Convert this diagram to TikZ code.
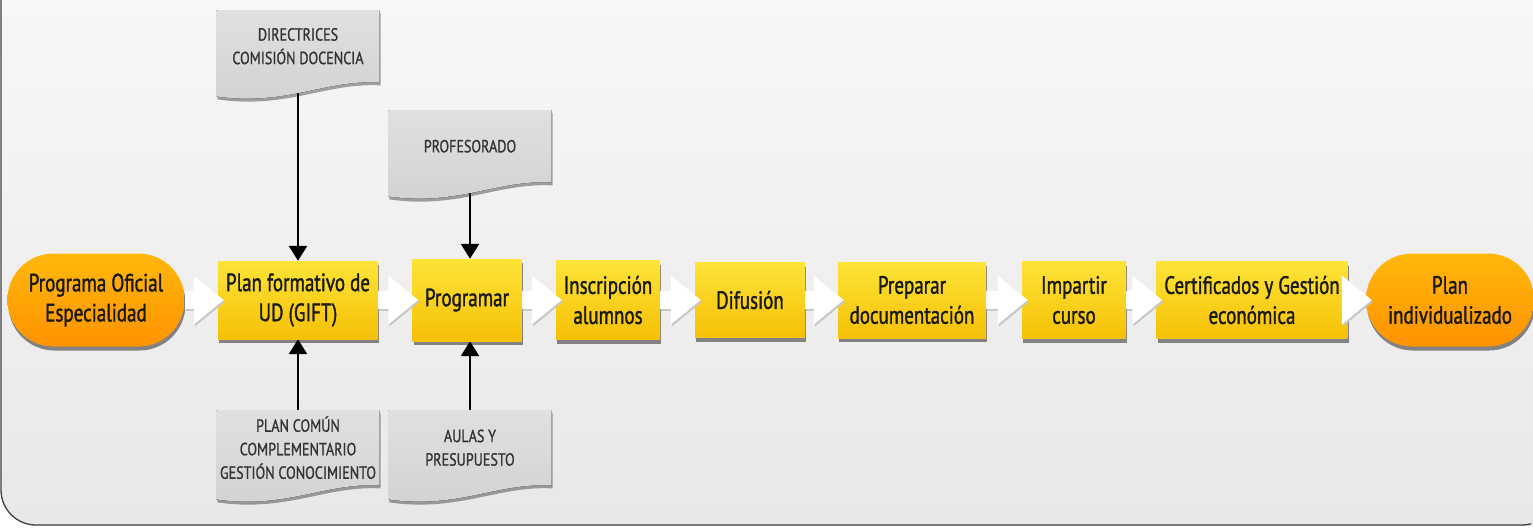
\documentclass[tikz,border=0pt]{standalone}
\usepackage{fontspec}
\setmainfont{PT Sans}[FakeStretch=0.76, FakeBold=1.3]
\newfontfamily\docfont{PT Sans}[FakeStretch=0.8, FakeBold=1]
\usetikzlibrary{arrows.meta, calc, positioning, shadows}

\definecolor{boxtop}{RGB}{253,228,56}
\definecolor{boxbot}{RGB}{246,192,6}
\definecolor{ovaltop}{RGB}{255,184,12}
\definecolor{ovalbot}{RGB}{255,146,0}
\definecolor{doctop}{RGB}{224,224,224}
\definecolor{docbot}{RGB}{210,210,210}
\definecolor{bgtop}{RGB}{247,247,247}
\definecolor{bgbot}{RGB}{232,232,232}

\pgfdeclarelayer{back}
\pgfdeclarelayer{links}
\pgfdeclarelayer{docs}
\pgfsetlayers{back,links,docs,main}

\begin{document}
\begin{tikzpicture}[x=1pt, y=-1pt,
    boxshadow/.style={drop shadow={shadow xshift=1pt, shadow yshift=-4pt, opacity=0.45, fill=black}},
    stepbox/.style={rectangle, top color=boxtop, bottom color=boxbot, boxshadow, align=center,
        inner sep=2pt, text=black!90, font=\fontsize{25}{30}\selectfont},
    terminal/.style={stepbox, rounded corners=46pt, top color=ovaltop, bottom color=ovalbot,
        minimum height=93pt},
    docbox/.style={rectangle, anchor=north, minimum width=163pt, align=center, text=black!80,
        font=\docfont\fontsize{17.6}{23.5}\selectfont},
    docshape/.style={top color=doctop, bottom color=docbot,
        drop shadow={shadow xshift=1pt, shadow yshift=-3pt, opacity=0.35, fill=black}},
    feed/.style={line width=2.6pt, -{Triangle[length=15pt, width=18pt]}},
    flow/.style={line width=18pt, draw=white, -{Triangle[length=30pt, width=47pt]}, shorten >=-6pt},
    flowshade/.style={flow, draw=black!22, transform canvas={xshift=1pt, yshift=-2pt}}
]
    \useasboundingbox (0,0) rectangle (1533,528);

    % Background panel
    \begin{pgfonlayer}{back}
        \fill[white] (0,0) rectangle (1533,528);
        \fill[top color=bgtop, bottom color=bgbot]
            (1,0) -- (1,490) arc[start angle=180, end angle=270, radius=35pt] -- (1533,525) -- (1533,0) -- cycle;
        \draw[black!75, line width=1.3pt]
            (1,0) -- (1,490) arc[start angle=180, end angle=270, radius=35pt] -- (1522,525)
            arc[start angle=270, end angle=285, radius=35pt];
    \end{pgfonlayer}

    % Main flow
    \node[terminal, minimum width=177pt] (start) at (96,300) {Programa Oficial\\Especialidad};
    \node[stepbox, minimum width=160pt, minimum height=78pt] (plan) at (298,300) {Plan formativo de\\UD (GIFT)};
    \node[stepbox, minimum width=109pt, minimum height=82pt] (prog) at (467,300) {Programar};
    \node[stepbox, minimum width=104pt, minimum height=79pt] (insc) at (608,300) {Inscripción\\alumnos};
    \node[stepbox, minimum width=110pt, minimum height=75pt] (difu) at (750,300) {Difusión};
    \node[stepbox, minimum width=148pt, minimum height=76pt] (prep) at (912,300) {Preparar\\documentación};
    \node[stepbox, minimum width=104pt, minimum height=77pt] (impa) at (1074,300) {Impartir\\curso};
    \node[stepbox, minimum width=191pt, minimum height=77pt] (cert) at (1252,300) {Certificados y Gestión\\económica};
    \node[terminal, minimum width=168pt] (final) at (1450,300) {Plan\\individualizado};

    % Inputs (documents)
    \node[docbox, minimum height=72pt] (dirc) at (298,10) {DIRECTRICES\\COMISIÓN DOCENCIA};
    \node[docbox, minimum height=72pt] (prof) at (470,110) {PROFESORADO};
    \node[docbox, minimum height=75pt] (comun) at (298,410) {PLAN COMÚN\\COMPLEMENTARIO\\GESTIÓN CONOCIMIENTO};
    \node[docbox, minimum height=75pt] (aulas) at (470,410) {AULAS Y\\PRESUPUESTO};

    \begin{pgfonlayer}{docs}
        \foreach \n in {dirc, prof, comun, aulas} {
            \fill[docshape] (\n.north west) -- (\n.north east) -- (\n.south east)
                .. controls ($(\n.south east)+(-55,-3)$) and ($(\n.south west)+(70,24)$) .. ($(\n.south west)+(0,14)$)
                -- cycle;
        }
    \end{pgfonlayer}

    % Input connectors
    \begin{pgfonlayer}{links}
        \draw[feed] (dirc.south) -- (dirc.south |- plan.north);
        \draw[feed] (prof.south) -- (prof.south |- prog.north);
        \draw[feed] (comun.north) -- (comun.north |- plan.south);
        \draw[feed] (aulas.north) -- (aulas.north |- prog.south);
    \end{pgfonlayer}

    % Flow arrows
    \foreach \a/\b in {start/plan, plan/prog, prog/insc, insc/difu, difu/prep, prep/impa, impa/cert, cert/final} {
        \draw[flowshade] (\a.east) -- (\b.west);
        \draw[flow] (\a.east) -- (\b.west);
    }
\end{tikzpicture}
\end{document}
